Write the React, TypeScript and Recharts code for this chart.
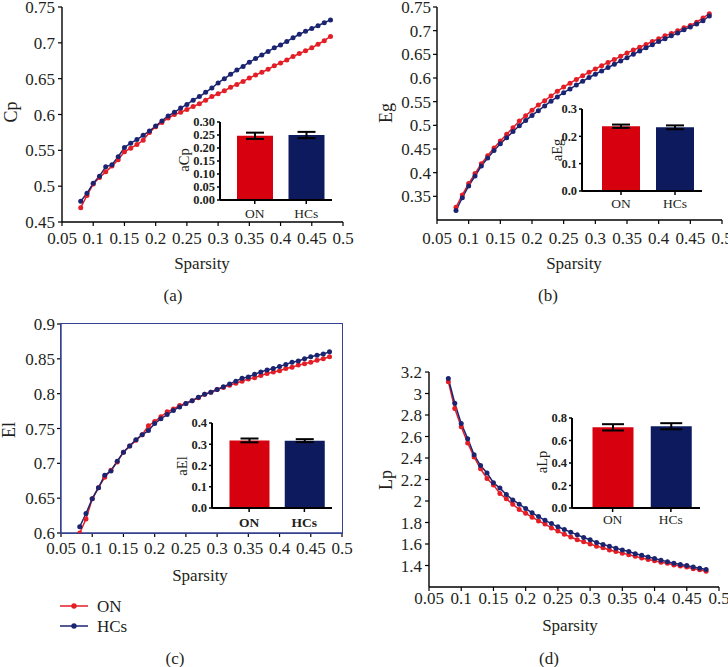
import React from 'react';
import { LineChart, Line, XAxis, YAxis, BarChart, Bar, ErrorBar, Cell } from 'recharts';

const SERIF = "'Liberation Serif', 'Times New Roman', serif";
const INK = '#231f20';
const RED = '#e41e26';
const NAVY = '#1b2470';
const BAR_RED = '#d7000f';
const BAR_NAVY = '#0d1b5e';

const sparsity = [
  0.08, 0.09, 0.1, 0.11, 0.12, 0.13, 0.14, 0.15, 0.16, 0.17, 0.18, 0.19, 0.2, 0.21,
  0.22, 0.23, 0.24, 0.25, 0.26, 0.27, 0.28, 0.29, 0.3, 0.31, 0.32, 0.33, 0.34, 0.35,
  0.36, 0.37, 0.38, 0.39, 0.4, 0.41, 0.42, 0.43, 0.44, 0.45, 0.46, 0.47, 0.48,
];
const xTicks = [0.05, 0.1, 0.15, 0.2, 0.25, 0.3, 0.35, 0.4, 0.45, 0.5];

const cpON = [
  0.47, 0.487, 0.503, 0.512, 0.52, 0.528, 0.537, 0.548, 0.553, 0.558, 0.564, 0.575, 0.583, 0.589,
  0.595, 0.6, 0.603, 0.607, 0.611, 0.615, 0.62, 0.625, 0.629, 0.633, 0.638, 0.642, 0.646, 0.651,
  0.655, 0.659, 0.663, 0.668, 0.672, 0.676, 0.681, 0.685, 0.689, 0.693, 0.698, 0.703, 0.709,
];
const cpHC = [
  0.479, 0.49, 0.504, 0.514, 0.527, 0.53, 0.541, 0.554, 0.56, 0.565, 0.571, 0.577, 0.584, 0.591,
  0.598, 0.603, 0.609, 0.614, 0.62, 0.625, 0.631, 0.637, 0.644, 0.65, 0.656, 0.662, 0.667, 0.673,
  0.678, 0.683, 0.688, 0.693, 0.697, 0.702, 0.707, 0.712, 0.716, 0.72, 0.724, 0.728, 0.732,
];
const egON = [
  0.327, 0.353, 0.377, 0.398, 0.419, 0.436, 0.452, 0.467, 0.481, 0.495, 0.509, 0.52, 0.532, 0.543,
  0.552, 0.562, 0.572, 0.581, 0.589, 0.597, 0.605, 0.612, 0.619, 0.626, 0.633, 0.639, 0.646, 0.653,
  0.659, 0.665, 0.671, 0.677, 0.683, 0.689, 0.694, 0.7, 0.706, 0.711, 0.718, 0.727, 0.736,
];
const egHC = [
  0.32, 0.347, 0.372, 0.393, 0.414, 0.431, 0.447, 0.461, 0.474, 0.487, 0.499, 0.51, 0.521, 0.531,
  0.541, 0.551, 0.56, 0.569, 0.577, 0.585, 0.593, 0.601, 0.608, 0.615, 0.622, 0.629, 0.636, 0.643,
  0.65, 0.657, 0.664, 0.67, 0.677, 0.683, 0.689, 0.695, 0.702, 0.708, 0.714, 0.721, 0.731,
];
const elON = [
  0.6, 0.62, 0.649, 0.665, 0.68, 0.69, 0.702, 0.716, 0.725, 0.733, 0.741, 0.754, 0.76, 0.767,
  0.774, 0.778, 0.783, 0.786, 0.79, 0.794, 0.799, 0.802, 0.806, 0.809, 0.812, 0.815, 0.818, 0.821,
  0.823, 0.826, 0.829, 0.831, 0.833, 0.836, 0.838, 0.841, 0.843, 0.845, 0.848, 0.85, 0.853,
];
const elHC = [
  0.609, 0.628, 0.649, 0.665, 0.683, 0.689, 0.703, 0.716, 0.725, 0.734, 0.741, 0.747, 0.757, 0.764,
  0.77, 0.776, 0.781, 0.786, 0.79, 0.795, 0.799, 0.802, 0.806, 0.81, 0.814, 0.818, 0.822, 0.824,
  0.828, 0.831, 0.834, 0.836, 0.839, 0.842, 0.845, 0.847, 0.85, 0.853, 0.855, 0.857, 0.86,
];
const lpON = [
  3.11, 2.86, 2.69, 2.54, 2.41, 2.3, 2.21, 2.15, 2.07, 2.02, 1.97, 1.92, 1.885, 1.85,
  1.815, 1.785, 1.75, 1.72, 1.69, 1.665, 1.64, 1.62, 1.6, 1.58, 1.565, 1.545, 1.53, 1.515,
  1.5, 1.485, 1.47, 1.455, 1.445, 1.43, 1.42, 1.405, 1.395, 1.385, 1.37, 1.36, 1.347,
];
const lpHC = [
  3.14, 2.91, 2.72, 2.58, 2.43, 2.33, 2.26, 2.17, 2.12, 2.06, 2.01, 1.97, 1.93, 1.89,
  1.855, 1.82, 1.79, 1.76, 1.735, 1.71, 1.685, 1.66, 1.64, 1.615, 1.595, 1.58, 1.56, 1.545,
  1.53, 1.51, 1.495, 1.48, 1.465, 1.45, 1.435, 1.42, 1.41, 1.4, 1.385, 1.375, 1.362,
];

const groups = ['ON', 'HCs'];
const aCpMean = [0.247, 0.25];
const aCpErr = [0.012, 0.012];
const aEgMean = [0.237, 0.233];
const aEgErr = [0.006, 0.007];
const aElMean = [0.318, 0.317];
const aElErr = [0.009, 0.007];
const aLpMean = [0.717, 0.727];
const aLpErr = [0.028, 0.027];

const curveRows = (on: number[], hc: number[]) => sparsity.map((s, i) => ({ s, on: on[i], hc: hc[i] }));
const barRows = (mean: number[], err: number[]) => groups.map((g, i) => ({ g, mean: mean[i], err: err[i] }));

type Box = { x0: number; x1: number; y0: number; y1: number };

const Txt = ({ x, y, size, rotate, bold, children }: any) => (
  <div
    style={{
      position: 'absolute',
      left: x,
      top: y,
      transform: `translate(-50%, -50%)${rotate ? ' rotate(-90deg)' : ''}`,
      fontSize: size,
      fontFamily: SERIF,
      fontWeight: bold ? 700 : 400,
      color: INK,
      lineHeight: 1,
      whiteSpace: 'nowrap',
    }}
  >
    {children}
  </div>
);

function CurvePanel({ rows, box, yDomain, yTicks, xMargin, yMargin, axisColor }: any) {
  const padL = 70, padT = 16, padR = 18, padB = 40;
  const b: Box = box;
  const w = b.x1 - b.x0 + padL + padR;
  const h = b.y1 - b.y0 + padT + padB;
  const tick = { fill: INK, fontSize: 17, fontFamily: SERIF };
  return (
    <div style={{ position: 'absolute', left: b.x0 - padL, top: b.y0 - padT }}>
      <LineChart width={w} height={h} data={rows} margin={{ top: padT, right: padR, bottom: 0, left: 0 }} style={{ overflow: 'visible' }}>
        <XAxis
          dataKey="s"
          type="number"
          domain={[0.05, 0.5]}
          ticks={xTicks}
          interval={0}
          height={padB}
          tickSize={4}
          tickMargin={xMargin}
          tick={tick}
          axisLine={{ stroke: axisColor, strokeWidth: 1.4 }}
          tickLine={{ stroke: '#000', strokeWidth: 1.2 }}
          allowDataOverflow
        />
        <YAxis
          type="number"
          domain={yDomain}
          ticks={yTicks}
          interval={0}
          width={padL}
          tickSize={4}
          tickMargin={yMargin}
          tick={tick}
          axisLine={{ stroke: axisColor, strokeWidth: 1.4 }}
          tickLine={{ stroke: '#000', strokeWidth: 1.2 }}
          allowDataOverflow
        />
        <Line
          type="linear"
          dataKey="on"
          stroke={RED}
          strokeWidth={1.5}
          dot={{ r: 2.5, fill: RED, stroke: RED, strokeWidth: 0 }}
          isAnimationActive={false}
        />
        <Line
          type="linear"
          dataKey="hc"
          stroke={NAVY}
          strokeWidth={1.5}
          dot={{ r: 2.5, fill: NAVY, stroke: NAVY, strokeWidth: 0 }}
          isAnimationActive={false}
        />
      </LineChart>
    </div>
  );
}

function InsetBars({ rows, box, domain, ticks, digits, bandPad, barSize, capW, xMargin, boldCats }: any) {
  const padL = 44, padT = 8, padR = 8, padB = 26;
  const b: Box = box;
  const w = b.x1 - b.x0 + padL + padR;
  const h = b.y1 - b.y0 + padT + padB;
  return (
    <div style={{ position: 'absolute', left: b.x0 - padL, top: b.y0 - padT }}>
      <BarChart width={w} height={h} data={rows} margin={{ top: padT, right: padR, bottom: 0, left: 0 }} style={{ overflow: 'visible' }}>
        <XAxis
          dataKey="g"
          height={padB}
          padding={{ left: bandPad, right: 0 }}
          tickSize={4}
          tickMargin={xMargin}
          tick={{ fill: INK, fontSize: 13.5, fontFamily: SERIF, fontWeight: boldCats ? 700 : 400 }}
          axisLine={{ stroke: '#000', strokeWidth: 2 }}
          tickLine={{ stroke: '#000', strokeWidth: 1.5 }}
        />
        <YAxis
          type="number"
          domain={domain}
          ticks={ticks}
          interval={0}
          width={padL}
          tickSize={3}
          tickMargin={2}
          tickFormatter={(v: number) => v.toFixed(digits)}
          tick={{ fill: INK, fontSize: 12.5, fontFamily: SERIF, fontWeight: 700 }}
          axisLine={{ stroke: '#000', strokeWidth: 2 }}
          tickLine={{ stroke: '#000', strokeWidth: 1.5 }}
        />
        <Bar dataKey="mean" barSize={barSize} isAnimationActive={false}>
          <Cell fill={BAR_RED} />
          <Cell fill={BAR_NAVY} />
          <ErrorBar dataKey="err" width={capW} stroke="#000" strokeWidth={2} />
        </Bar>
      </BarChart>
    </div>
  );
}

export default function App() {
  return (
    <div style={{ position: 'absolute', left: 0, top: 0, width: 728, height: 667, background: '#fff', overflow: 'hidden' }}>
      {/* (a) Cp */}
      <CurvePanel
        rows={curveRows(cpON, cpHC)}
        box={{ x0: 62, x1: 343, y0: 7, y1: 222 }}
        yDomain={[0.45, 0.75]}
        yTicks={[0.45, 0.5, 0.55, 0.6, 0.65, 0.7, 0.75]}
        xMargin={6}
        yMargin={3}
        axisColor="#000"
      />
      <InsetBars
        rows={barRows(aCpMean, aCpErr)}
        box={{ x0: 220, x1: 332, y0: 122, y1: 200 }}
        domain={[0, 0.3]}
        ticks={[0, 0.05, 0.1, 0.15, 0.2, 0.25, 0.3]}
        digits={2}
        bandPad={9}
        barSize={36}
        capW={9}
        xMargin={4}
      />
      <Txt x={11} y={112} size={18} rotate>Cp</Txt>
      <Txt x={184} y={160} size={14.5} rotate>aCp</Txt>
      <Txt x={202} y={263} size={17}>Sparsity</Txt>
      <Txt x={173} y={295} size={17}>(a)</Txt>

      {/* (b) Eg */}
      <CurvePanel
        rows={curveRows(egON, egHC)}
        box={{ x0: 437, x1: 722, y0: 7, y1: 220 }}
        yDomain={[0.3, 0.75]}
        yTicks={[0.35, 0.4, 0.45, 0.5, 0.55, 0.6, 0.65, 0.7, 0.75]}
        xMargin={8}
        yMargin={2}
        axisColor="#000"
      />
      <InsetBars
        rows={barRows(aEgMean, aEgErr)}
        box={{ x0: 582, x1: 702, y0: 109, y1: 191 }}
        domain={[0, 0.3]}
        ticks={[0, 0.1, 0.2, 0.3]}
        digits={1}
        bandPad={12}
        barSize={38}
        capW={9}
        xMargin={3}
      />
      <Txt x={386} y={113} size={18} rotate>Eg</Txt>
      <Txt x={557} y={150} size={14.5} rotate>aEg</Txt>
      <Txt x={574} y={263} size={17}>Sparsity</Txt>
      <Txt x={548} y={295} size={17}>(b)</Txt>

      {/* (c) El */}
      <CurvePanel
        rows={curveRows(elON, elHC)}
        box={{ x0: 61, x1: 342, y0: 324, y1: 533 }}
        yDomain={[0.6, 0.9]}
        yTicks={[0.6, 0.65, 0.7, 0.75, 0.8, 0.85, 0.9]}
        xMargin={5}
        yMargin={2}
        axisColor="#34418e"
      />
      <div
        style={{
          position: 'absolute',
          left: 60.3,
          top: 323.3,
          width: 281,
          height: 209,
          border: '1.4px solid #34418e',
          pointerEvents: 'none',
        }}
      />
      <InsetBars
        rows={barRows(aElMean, aElErr)}
        box={{ x0: 212, x1: 332, y0: 423, y1: 508 }}
        domain={[0, 0.4]}
        ticks={[0, 0.1, 0.2, 0.3, 0.4]}
        digits={1}
        bandPad={9.5}
        barSize={40}
        capW={9}
        xMargin={5}
        boldCats
      />
      <Txt x={9} y={430} size={18} rotate>El</Txt>
      <Txt x={182} y={466} size={14.5} rotate>aEl</Txt>
      <Txt x={200} y={575} size={17}>Sparsity</Txt>
      <Txt x={175} y={658} size={17}>(c)</Txt>

      {/* legend */}
      {[
        { name: 'ON', color: RED, y: 606 },
        { name: 'HCs', color: NAVY, y: 626 },
      ].map((item) => (
        <div key={item.name} style={{ position: 'absolute', left: 60, top: item.y - 8, height: 16, display: 'flex', alignItems: 'center' }}>
          <svg width={30} height={16}>
            <line x1={0} y1={8} x2={28} y2={8} stroke={item.color} strokeWidth={1.5} />
            <circle cx={14} cy={8} r={2.7} fill={item.color} />
          </svg>
          <span style={{ marginLeft: 7, fontFamily: SERIF, fontSize: 17, color: INK, lineHeight: 1 }}>{item.name}</span>
        </div>
      ))}

      {/* (d) Lp */}
      <CurvePanel
        rows={curveRows(lpON, lpHC)}
        box={{ x0: 429, x1: 719, y0: 372, y1: 587 }}
        yDomain={[1.2, 3.2]}
        yTicks={[1.4, 1.6, 1.8, 2, 2.2, 2.4, 2.6, 2.8, 3, 3.2]}
        xMargin={1}
        yMargin={3}
        axisColor="#000"
      />
      <InsetBars
        rows={barRows(aLpMean, aLpErr)}
        box={{ x0: 572, x1: 700, y0: 418, y1: 508 }}
        domain={[0, 0.8]}
        ticks={[0, 0.2, 0.4, 0.6, 0.8]}
        digits={1}
        bandPad={11.5}
        barSize={41}
        capW={11}
        xMargin={2}
      />
      <Txt x={386} y={480} size={18} rotate>Lp</Txt>
      <Txt x={542} y={462} size={14.5} rotate>aLp</Txt>
      <Txt x={570} y={625} size={17}>Sparsity</Txt>
      <Txt x={549} y={658} size={17}>(d)</Txt>
    </div>
  );
}
